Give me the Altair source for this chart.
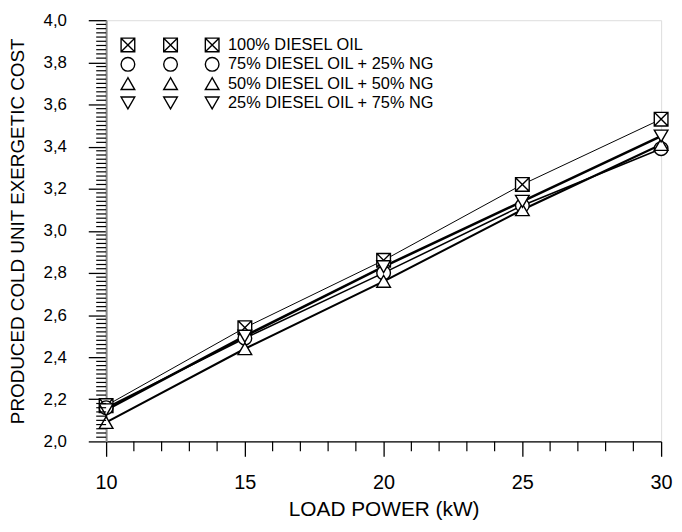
import altair as alt
import pandas as pd
import numpy as np

# ---- data ----
load_kw = [10, 15, 20, 25, 30]
diesel_100 = [2.17, 2.54, 2.86, 3.22, 3.53]
diesel_75 = [2.16, 2.49, 2.80, 3.12, 3.39]
diesel_50 = [2.09, 2.44, 2.76, 3.10, 3.41]
diesel_25 = [2.15, 2.50, 2.83, 3.14, 3.45]
series_names = [
    "100% DIESEL OIL",
    "75% DIESEL OIL + 25% NG",
    "50% DIESEL OIL + 50% NG",
    "25% DIESEL OIL + 75% NG",
]
y_major = [2.0, 2.2, 2.4, 2.6, 2.8, 3.0, 3.2, 3.4, 3.6, 3.8, 4.0]
x_major = [10, 15, 20, 25, 30]

BOXX = "M-1,-1L1,-1L1,1L-1,1Z M-1,-1L1,1 M1,-1L-1,1"
shapes = [BOXX, "circle", "triangle-up", "triangle-down"]
widths = [1.0, 2.6, 2.6, 2.6]

rows = []
for name, vals in zip(series_names, [diesel_100, diesel_75, diesel_50, diesel_25]):
    for x, v in zip(load_kw, vals):
        rows.append({"load": x, "cost": v, "series": name})
df = pd.DataFrame(rows)

y_minor = [round(2.0 + 0.02 * i, 2) for i in range(101) if i % 10 != 0]
x_minor = [v for v in range(10, 31) if v % 5 != 0]

FONT = "Liberation Sans"
W, H = 560, 425

xscale = alt.Scale(domain=[10, 30], nice=False)
yscale = alt.Scale(domain=[2.0, 4.0], nice=False)

xaxis = alt.Axis(
    values=x_major, title="LOAD POWER (kW)", grid=False,
    tickSize=15, tickColor="black", tickWidth=1.3,
    domainColor="black", domainWidth=1.3,
    labelFont=FONT, labelFontSize=20, labelColor="black", labelPadding=17,
    labelFlush=False,
    titleFont=FONT, titleFontSize=21, titleFontWeight="normal", titleColor="black",
    titlePadding=6,
)
yaxis = alt.Axis(
    values=y_major, title="PRODUCED COLD UNIT EXERGETIC COST", grid=False,
    tickSize=18, tickColor="black", tickWidth=1.3,
    domainColor="#888888", domainWidth=2,
    labelFont=FONT, labelFontSize=17, labelColor="black", labelPadding=22,
    labelFlush=False,
    labelExpr="replace(format(datum.value, '.1f'), '.', ',')",
    titleFont=FONT, titleFontSize=19, titleFontWeight="normal", titleColor="black",
    titlePadding=16,
)

X = alt.X("load:Q", scale=xscale, axis=xaxis)
Y = alt.Y("cost:Q", scale=yscale, axis=yaxis)

lines = alt.Chart(df).mark_line(color="black").encode(
    x=X, y=Y, detail="series:N",
    strokeWidth=alt.StrokeWidth("series:N", scale=alt.Scale(domain=series_names, range=widths), legend=None),
)
points = alt.Chart(df).mark_point(filled=True, fill="white", stroke="black", strokeWidth=1.4, size=190, opacity=1).encode(
    x=X, y=Y,
    shape=alt.Shape("series:N", scale=alt.Scale(domain=series_names, range=shapes), legend=None),
)

yminor = alt.Chart(pd.DataFrame({"cost": y_minor})).mark_rule(color="black", strokeWidth=1.2).encode(
    y=Y, x=alt.value(-10), x2=alt.value(0)
)
xminor = alt.Chart(pd.DataFrame({"load": x_minor})).mark_rule(color="black", strokeWidth=1.2).encode(
    x=X, y=alt.value(H), y2=alt.value(H + 10)
)

# legend (three symbol columns, then label)
legend_layers = []
col_px = [22, 65, 107]
row_px = [25, 44.5, 64, 83.5]
text_px = 123
for name, shp, ry in zip(series_names, shapes, row_px):
    src = pd.DataFrame({"label": [name]})
    for cx in col_px:
        legend_layers.append(
            alt.Chart(src).mark_point(shape=shp, filled=True, fill="white", stroke="black",
                                      strokeWidth=1.4, size=190, opacity=1).encode(
                x=alt.value(cx), y=alt.value(ry))
        )
    legend_layers.append(
        alt.Chart(src).mark_text(align="left", baseline="middle", font=FONT, fontSize=16.5, color="black").encode(
            x=alt.value(text_px), y=alt.value(ry), text="label:N")
    )

chart = alt.layer(lines, points, yminor, xminor, *legend_layers).properties(
    width=W, height=H,
    autosize=alt.AutoSizeParams(type="none"),
    padding={"left": 99, "top": 10, "right": 13, "bottom": 80},
).configure_view(stroke="#888888", strokeWidth=2).configure(background="white")

chart.save("out.html", embed_options={"renderer": "svg", "actions": False})
